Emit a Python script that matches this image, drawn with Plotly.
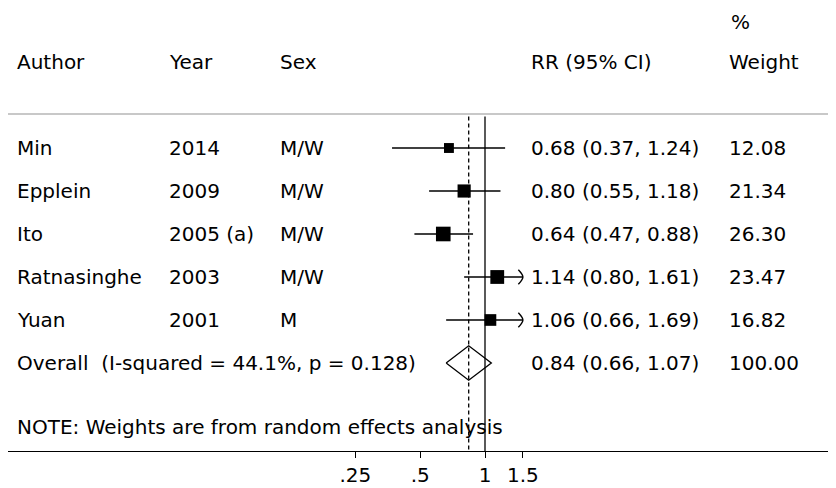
import math
import plotly.graph_objects as go

# ---------------- data ----------------
authors = ["Min", "Epplein", "Ito", "Ratnasinghe", "Yuan"]
years = ["2014", "2009", "2005 (a)", "2003", "2001"]
sexes = ["M/W", "M/W", "M/W", "M/W", "M"]
rr = [0.68, 0.80, 0.64, 1.14, 1.06]
ci_lo = [0.37, 0.55, 0.47, 0.80, 0.66]
ci_hi = [1.24, 1.18, 0.88, 1.61, 1.69]
weights = [12.08, 21.34, 26.30, 23.47, 16.82]

overall_label = "Overall\u00a0 (I-squared = 44.1%, p = 0.128)"
overall_rr = 0.84
overall_lo = 0.66
overall_hi = 1.07
overall_weight = 100.00

note_text = "NOTE: Weights are from random effects analysis"
header_cols = ["Author", "Year", "Sex", "RR (95% CI)", "Weight"]
header_top = "%"

tick_vals = [0.25, 0.5, 1, 1.5]
tick_text = [".25", ".5", "1", "1.5"]
axis_min, axis_max = 0.25, 1.5
null_value = 1

# ---------------- layout helpers ----------------
OFF = 8                      # page body margin in the browser
W, H = 836 - OFF, 488 - OFF
ML, MR, MT, MB = 0, 0, 0, 37
PW = W - ML - MR
FONT = "DejaVu Sans"
FS = 20
BLACK = "#000000"

def px(page_x):
    return (page_x - OFF - ML) / PW

study_rows = [1, 2, 3, 4, 5]
overall_row = 6
note_row = 7.5
header_row = -1
top_row = -1.93
line_row = 0.21
vline_top = 0.27
y_bottom = 8.047
y_top = -2.256

fig = go.Figure()

# CI lines, arrows and squares
for i, r in enumerate(study_rows):
    lo = max(ci_lo[i], axis_min)
    hi = min(ci_hi[i], axis_max)
    fig.add_trace(go.Scatter(x=[lo, hi], y=[r, r], mode="lines",
                             line=dict(color=BLACK, width=1.3),
                             hoverinfo="skip"))
    if ci_hi[i] > axis_max:
        k = 1.05
        fig.add_trace(go.Scatter(x=[hi / k, hi, hi / k], y=[r - 0.17, r, r + 0.17],
                                 mode="lines",
                                 line=dict(color=BLACK, width=1.4, shape="spline"),
                                 hoverinfo="skip"))

fig.add_trace(go.Scatter(
    x=rr, y=study_rows, mode="markers",
    marker=dict(symbol="square", color=BLACK, opacity=1,
                size=[2.85 * math.sqrt(w) for w in weights],
                line=dict(width=0)),
    hoverinfo="skip"))

# null line and overall dashed line
fig.add_trace(go.Scatter(x=[null_value, null_value], y=[vline_top, y_bottom],
                         mode="lines", line=dict(color=BLACK, width=1.3),
                         hoverinfo="skip"))
fig.add_trace(go.Scatter(x=[overall_rr, overall_rr], y=[vline_top, y_bottom],
                         mode="lines", line=dict(color=BLACK, width=1.3, dash="4px,3px"),
                         hoverinfo="skip"))

# overall diamond
dh = 0.4
fig.add_trace(go.Scatter(
    x=[overall_lo, overall_rr, overall_hi, overall_rr, overall_lo],
    y=[overall_row, overall_row - dh, overall_row, overall_row + dh, overall_row],
    mode="lines", line=dict(color=BLACK, width=1.3), hoverinfo="skip"))

# ---------------- text ----------------
col_x = {"author": 15, "year": 167, "sex": 278, "rr": 529, "weight": 727}

def txt(page_x, y, s):
    fig.add_annotation(x=px(page_x), xref="paper", y=y, yref="y", text=s,
                       showarrow=False, xanchor="left", yanchor="middle",
                       font=dict(family=FONT, size=FS, color=BLACK))

txt(729, top_row, header_top)
for key, label in zip(["author", "year", "sex", "rr", "weight"], header_cols):
    txt(col_x[key], header_row, label)

for i, r in enumerate(study_rows):
    txt(col_x["author"], r, authors[i])
    txt(col_x["year"], r, years[i])
    txt(col_x["sex"], r, sexes[i])
    txt(col_x["rr"], r, f"{rr[i]:.2f} ({ci_lo[i]:.2f}, {ci_hi[i]:.2f})")
    txt(col_x["weight"], r, f"{weights[i]:.2f}")

txt(col_x["author"], overall_row, overall_label)
txt(col_x["rr"], overall_row, f"{overall_rr:.2f} ({overall_lo:.2f}, {overall_hi:.2f})")
txt(col_x["weight"], overall_row, f"{overall_weight:.2f}")
txt(col_x["author"], note_row, note_text)

# gray separator line
fig.add_shape(type="line", xref="paper", x0=0, x1=1, yref="y", y0=line_row, y1=line_row,
              line=dict(color="#c8c8c8", width=2))

# ---------------- axes ----------------
px_per_ln = 93.5
px_per_dec = px_per_ln * math.log(10)
null_px = 485 - OFF - ML
x_range = [-null_px / px_per_dec, (PW - null_px) / px_per_dec]

fig.update_xaxes(type="log", range=x_range, showline=True, linecolor=BLACK, linewidth=1.3,
                 ticks="outside", ticklen=6, tickwidth=1.2, tickcolor=BLACK,
                 tickvals=tick_vals, ticktext=tick_text, showgrid=False, zeroline=False,
                 tickfont=dict(family=FONT, size=FS, color=BLACK))
fig.update_yaxes(range=[y_bottom, y_top], visible=False, showgrid=False, zeroline=False)

fig.update_layout(width=W, height=H, margin=dict(l=ML, r=MR, t=MT, b=MB),
                  plot_bgcolor="white", paper_bgcolor="white", showlegend=False,
                  font=dict(family=FONT, size=FS, color=BLACK))

fig.write_html("out.html")
